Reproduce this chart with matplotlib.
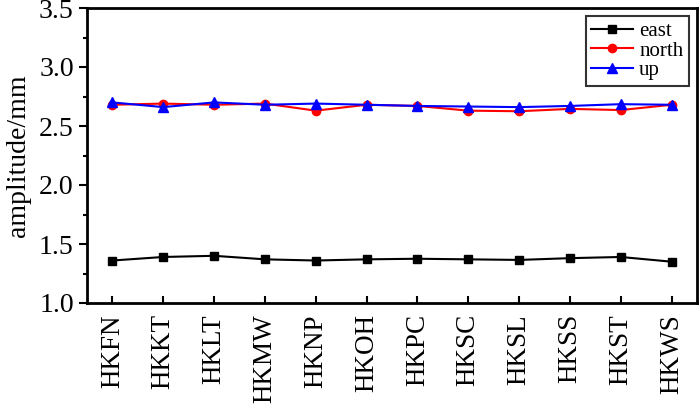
import numpy as np
import matplotlib
matplotlib.use('Agg')
import matplotlib.pyplot as plt
from matplotlib.ticker import MultipleLocator, FormatStrFormatter

plt.rcParams['font.family'] = ['Liberation Serif', 'DejaVu Serif']

stations = ['HKFN', 'HKKT', 'HKLT', 'HKMW', 'HKNP', 'HKOH',
            'HKPC', 'HKSC', 'HKSL', 'HKSS', 'HKST', 'HKWS']
east = [1.36, 1.39, 1.40, 1.37, 1.36, 1.37, 1.375, 1.37, 1.365, 1.38, 1.39, 1.35]
north = [2.68, 2.69, 2.68, 2.69, 2.63, 2.68, 2.67, 2.63, 2.625, 2.645, 2.635, 2.68]
up = [2.70, 2.66, 2.70, 2.68, 2.69, 2.68, 2.67, 2.665, 2.66, 2.67, 2.685, 2.68]

x = np.arange(len(stations))

fig = plt.figure(figsize=(7, 4.08), dpi=100)
ax = fig.add_axes([87/700, 1-303/408, 610/700, 295/408])

ax.plot(x, east, color='black', marker='s', markersize=6, linewidth=1.5, label='east')
ax.plot(x, north, color='red', marker='o', markersize=6, linewidth=1.5, label='north')
ax.plot(x, up, color='blue', marker='^', markersize=7, linewidth=1.5, label='up')

ax.set_xlim(-0.5, 11.5)
ax.set_ylim(1.0, 3.5)
ax.set_xticks(x)
ax.set_xticklabels(stations, rotation=90, fontsize=19.5)
ax.yaxis.set_major_locator(MultipleLocator(0.5))
ax.yaxis.set_minor_locator(MultipleLocator(0.25))
ax.yaxis.set_major_formatter(FormatStrFormatter('%.1f'))
ax.tick_params(axis='y', which='major', direction='out', length=6, width=1.5,
               labelsize=20)
ax.tick_params(axis='y', which='minor', direction='out', length=3, width=1.5)
ax.tick_params(axis='x', direction='in', length=5, width=1.5, pad=8)
for s in ax.spines.values():
    s.set_linewidth(2)
ax.set_ylabel('amplitude/mm', fontsize=20, labelpad=6)

leg = ax.legend(loc='upper right', fontsize=15, frameon=True, fancybox=False,
                edgecolor='black', handlelength=2.0, labelspacing=0.0,
                borderpad=0.25, handletextpad=0.3, borderaxespad=0.4)
leg.get_frame().set_linewidth(1.5)

plt.savefig('out.png', dpi=100)
